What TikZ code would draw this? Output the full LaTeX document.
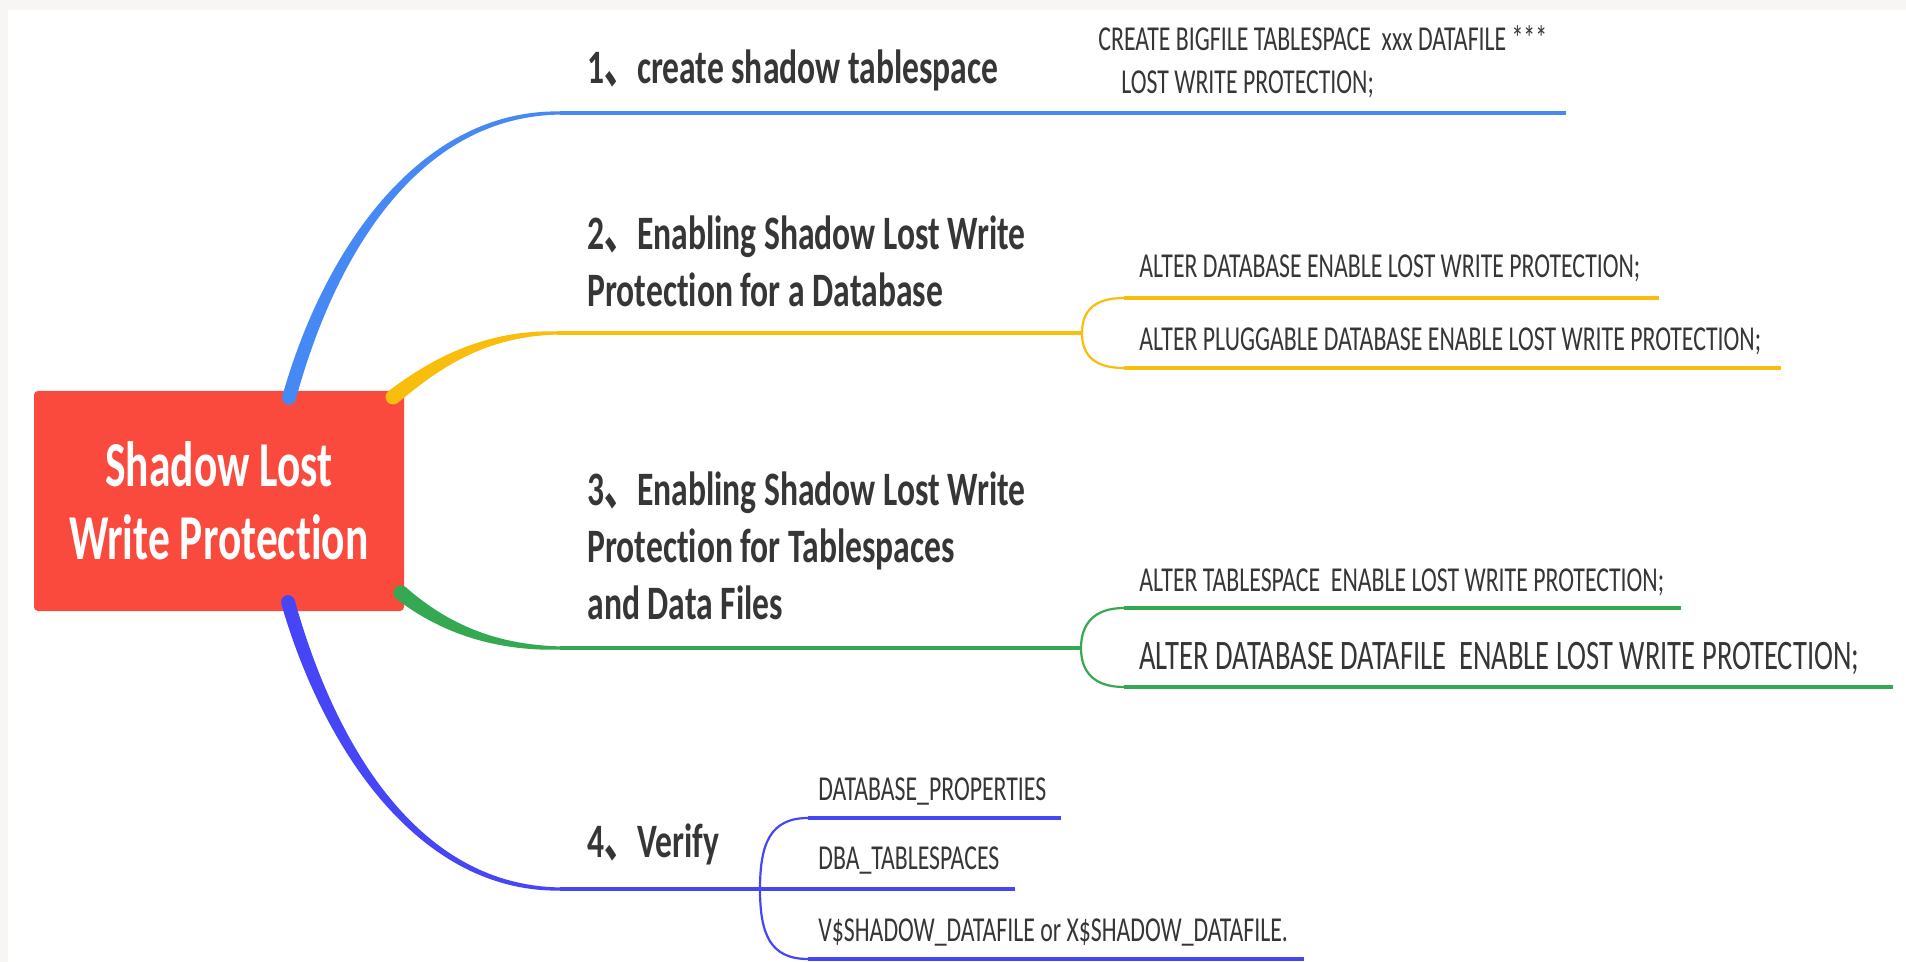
\documentclass[tikz,border=0pt]{standalone}
\usepackage{fontspec}
\setmainfont[FakeStretch=0.68,Ligatures=NoCommon]{Carlito}
\newfontfamily\topicfont[FakeStretch=0.70,Ligatures=NoCommon]{Carlito}
\newfontfamily\cjk[FakeStretch=0.68]{Noto Sans CJK SC}
\usetikzlibrary{calc}

\definecolor{rootred}{HTML}{FA4A3D}
\definecolor{tblue}{HTML}{4688F4}
\definecolor{tyellow}{HTML}{F9BD0B}
\definecolor{tgreen}{HTML}{35A852}
\definecolor{tviolet}{HTML}{4646F6}
\definecolor{ink}{HTML}{363636}
\definecolor{edge}{HTML}{F7F6F4}

\tikzset{
  root/.style={fill=rootred, rounded corners=2pt, text=white, inner sep=0pt,
    minimum width=185pt, minimum height=110pt, align=center,
    font=\fontsize{32}{36.5}\selectfont\bfseries},
  topic/.style={anchor=base west, inner sep=0pt, text=ink, align=left,
    font=\topicfont\fontsize{24}{28.5}\selectfont\bfseries},
  leaf/.style={anchor=base west, inner sep=0pt, text=ink, align=left,
    font=\fontsize{17.5}{21.5}\selectfont},
  uline/.style={line width=1.6pt},
  brace/.style={line width=1.1pt},
}

\begin{document}
\begin{tikzpicture}[x=0.5pt,y=-0.5pt]
	\useasboundingbox (0,0) rectangle (1906,962);
	\fill[edge] (0,0) rectangle (1906,962);
	\fill[white] (8,10) rectangle (1906,962);

	% centre topic
	\node[root] (root) at (219,501) {Shadow Lost\\Write Protection};

	% main topics (base = last line)
	\node[topic] (t1) at (587,84) {1{\cjk 、}create shadow tablespace};
	\node[topic] (t2) at (587,307) {2{\cjk 、}Enabling Shadow Lost Write\\Protection for a Database};
	\node[topic] (t3) at (587,619) {3{\cjk 、}Enabling Shadow Lost Write\\Protection for Tablespaces\\and Data Files};
	\node[topic] (t4) at (587,857) {4{\cjk 、}Verify};

	% sub topics
	\node[leaf] (c11) at (1098,94) {CREATE BIGFILE TABLESPACE\ \ xxx DATAFILE ***\\\hspace*{11.5pt}LOST WRITE PROTECTION;};
	\node[leaf] (c21) at (1139,278) {ALTER DATABASE ENABLE LOST WRITE PROTECTION;};
	\node[leaf] (c22) at (1139,351) {ALTER PLUGGABLE DATABASE ENABLE LOST WRITE PROTECTION;};
	\node[leaf] (c31) at (1139,591) {ALTER TABLESPACE\ \ ENABLE LOST WRITE PROTECTION;};
	\node[leaf, font=\fontsize{21}{25}\selectfont] (c32) at (1139,669) {ALTER DATABASE DATAFILE\ \ ENABLE LOST WRITE PROTECTION;};
	\node[leaf] (c41) at (818,800) {DATABASE\_PROPERTIES};
	\node[leaf] (c42) at (818,869) {DBA\_TABLESPACES};
	\node[leaf] (c43) at (818,941) {V\$SHADOW\_DATAFILE or X\$SHADOW\_DATAFILE.};

	% branch ends
	\coordinate (b1s) at (289,398);  \coordinate (b1e) at (560,113);
	\coordinate (b2s) at (393,397);  \coordinate (b2e) at (557,333);
	\coordinate (b3s) at (401,593);  \coordinate (b3e) at (560,648);
	\coordinate (b4s) at (288,602);  \coordinate (b4e) at (560,889);

	% tapered branches
	\fill[tblue] ($(b1s)+(6.7,1.8)$) .. controls (336,251.6) and (420,116.5) .. ($(b1e)+(0,1.6)$) -- ($(b1e)+(0,-1.6)$) .. controls (420,109.5) and (324,248.4) .. ($(b1s)+(-6.7,-1.8)$) -- cycle;
	\fill[tblue] (b1s) circle (6.9);
	\fill[tyellow] ($(b2s)+(4.6,5.9)$) .. controls (434,373) and (480,336.5) .. ($(b2e)+(0,1.6)$) -- ($(b2e)+(0,-1.6)$) .. controls (480,329.5) and (426,363) .. ($(b2s)+(-4.6,-5.9)$) -- cycle;
	\fill[tyellow] (b2s) circle (7.5);
	\fill[tgreen] ($(b3s)+(-4.7,5.8)$) .. controls (436,629.6) and (490,651.5) .. ($(b3e)+(0,1.6)$) -- ($(b3e)+(0,-1.6)$) .. controls (490,644.5) and (444,620.4) .. ($(b3s)+(4.7,-5.8)$) -- cycle;
	\fill[tgreen] (b3s) circle (7.5);
	\fill[tviolet] ($(b4s)+(-6.7,1.9)$) .. controls (324,751.6) and (420,892.5) .. ($(b4e)+(0,1.6)$) -- ($(b4e)+(0,-1.6)$) .. controls (420,885.5) and (336,748.4) .. ($(b4s)+(6.7,-1.9)$) -- cycle;
	\fill[tviolet] (b4s) circle (6.9);

	% joints and underline ends
	\coordinate (j1) at (1084,113);  \coordinate (e11) at (1566,113);
	\coordinate (j2) at (1082,333);
	\coordinate (k21) at (1124,298); \coordinate (e21) at (1659,298);
	\coordinate (k22) at (1124,368); \coordinate (e22) at (1781,368);
	\coordinate (j3) at (1081,648);
	\coordinate (k31) at (1124,608); \coordinate (e31) at (1681,608);
	\coordinate (k32) at (1124,687); \coordinate (e32) at (1893,687);
	\coordinate (j4) at (760,889);   \coordinate (e42) at (1015,889);
	\coordinate (k41) at (808,818);  \coordinate (e41) at (1061,818);
	\coordinate (k43) at (808,959);  \coordinate (e43) at (1304,959);

	% 1
	\draw[uline,tblue] (b1e) -- (j1) -- (e11);
	% 2
	\draw[uline,tyellow] (b2e) -- (j2);
	\draw[brace,tyellow] (k21) .. controls +(-30,0) and +(0,-22) .. (j2) .. controls +(0,22) and +(-30,0) .. (k22);
	\draw[uline,tyellow] (k21) -- (e21);
	\draw[uline,tyellow] (k22) -- (e22);
	% 3
	\draw[uline,tgreen] (b3e) -- (j3);
	\draw[brace,tgreen] (k31) .. controls +(-30,0) and +(0,-24) .. (j3) .. controls +(0,24) and +(-30,0) .. (k32);
	\draw[uline,tgreen] (k31) -- (e31);
	\draw[uline,tgreen] (k32) -- (e32);
	% 4
	\draw[uline,tviolet] (b4e) -- (j4) -- (e42);
	\draw[brace,tviolet] (k41) .. controls +(-38,0) and +(0,-45) .. (j4) .. controls +(0,45) and +(-38,0) .. (k43);
	\draw[uline,tviolet] (k41) -- (e41);
	\draw[uline,tviolet] (k43) -- (e43);
\end{tikzpicture}
\end{document}
